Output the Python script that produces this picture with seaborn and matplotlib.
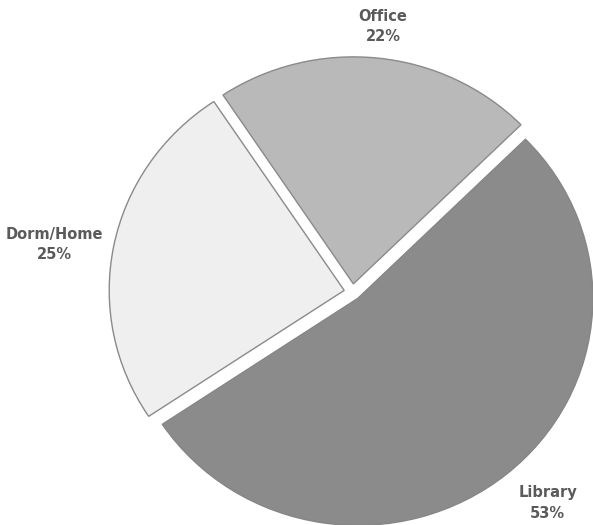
import matplotlib
matplotlib.use("Agg")
import matplotlib.pyplot as plt
import seaborn as sns

# Where students study
locations = ["Office", "Dorm/Home", "Library"]
shares = [22, 25, 53]
slice_colors = ["#b9b9b9", "#efefef", "#8b8b8b"]

sns.set_theme(style="white")
plt.rcParams["font.family"] = ["DejaVu Sans"]

W, H = 593, 525
fig = plt.figure(figsize=(W / 100, H / 100), dpi=100)
ax = fig.add_axes([0, 0, 1, 1])

wedges, texts = ax.pie(
    shares,
    labels=[f"{n}\n{v}%" for n, v in zip(locations, shares)],
    colors=slice_colors,
    startangle=44.5,
    counterclock=True,
    explode=[0.036] * len(shares),
    labeldistance=1.22,
    wedgeprops=dict(edgecolor="#8a8a8a", linewidth=1.0),
    textprops=dict(fontsize=10.5, fontweight="bold", color="#5a5a5a",
                   ha="center", va="center", multialignment="center",
                   linespacing=1.45),
    normalize=True,
)
wedges[2].set_edgecolor("#868686")

# label placement (axis units, radius = 1)
label_xy = [(0.13, 1.17), (-1.27, 0.21), (0.83, -0.93)]
for t, (x, y) in zip(texts, label_xy):
    t.set_position((x, y))
    t.set_ha("center")

# slightly wider than tall, as in the printed chart
rx, ry = 235.0, 227.0
cx, cy = 352.5, 292.0
ax.set_aspect("auto")
ax.set_xlim(-cx / rx, (W - cx) / rx)
ax.set_ylim(-(H - cy) / ry, cy / ry)
ax.axis("off")

fig.savefig("out.png", dpi=100, facecolor="white")
